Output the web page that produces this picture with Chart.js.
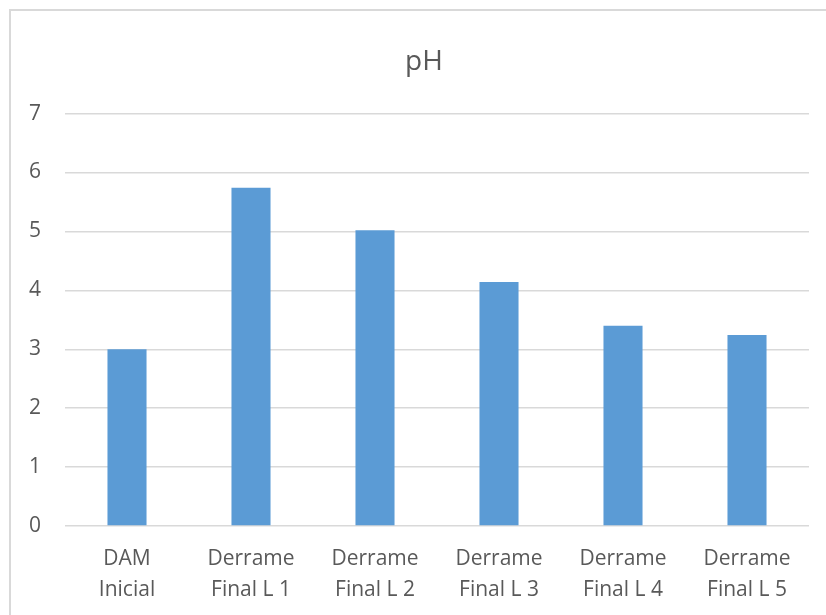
<!DOCTYPE html>
<html lang="pt-BR">
<head>
    <meta charset="UTF-8">
    <title>pH</title>
    <script src="https://cdn.jsdelivr.net/npm/chart.js"></script>
    <style>
        html, body { margin: 0; padding: 0; background: #fff; overflow: hidden; }
        .frame {
            position: absolute; left: 9px; top: 9px; width: 880px; height: 700px;
            border: 2px solid #d9d9d9; box-sizing: border-box;
        }
        .wrap { position: absolute; left: 0; top: 0; width: 850px; height: 640px; }
    </style>
</head>
<body>
    <div class="frame"></div>
    <div class="wrap"><canvas id="phChart"></canvas></div>

    <script>
        const categories = [["DAM", "Inicial"], ["Derrame", "Final L 1"], ["Derrame", "Final L 2"],
                            ["Derrame", "Final L 3"], ["Derrame", "Final L 4"], ["Derrame", "Final L 5"]];
        const phValues = [3.0, 5.74, 5.02, 4.14, 3.40, 3.24];
        const yTicks = [0, 1, 2, 3, 4, 5, 6, 7];

        const textColor = "#595959";
        const fontFamily = "'Open Sans', sans-serif";

        // nudge the title so it centres where the reference has it
        const titleShift = {
            id: "titleShift",
            afterLayout(chart) {
                if (chart.titleBlock) chart.titleBlock.left += 19;
            }
        };

        const ctx = document.getElementById("phChart").getContext("2d");
        new Chart(ctx, {
            type: "bar",
            data: {
                labels: categories,
                datasets: [{
                    label: "pH",
                    data: phValues,
                    backgroundColor: "#5b9bd5",
                    borderWidth: 0,
                    categoryPercentage: 1,
                    barPercentage: 0.315
                }]
            },
            plugins: [titleShift],
            options: {
                responsive: true,
                maintainAspectRatio: false,
                animation: false,
                layout: { padding: { left: 20, right: 41, top: 0, bottom: 0 } },
                plugins: {
                    legend: { display: false },
                    tooltip: { enabled: false },
                    title: {
                        display: true,
                        text: "pH",
                        color: textColor,
                        font: { family: fontFamily, size: 28, weight: "normal", lineHeight: 1.2 },
                        padding: { top: 45, bottom: 35 }
                    }
                },
                scales: {
                    x: {
                        grid: { display: false, drawTicks: false },
                        border: { display: false },
                        ticks: {
                            color: textColor,
                            font: { family: fontFamily, size: 21, lineHeight: 1.48 },
                            padding: 17,
                            maxRotation: 0
                        },
                        afterFit: (scale) => { scale.height = 114; }
                    },
                    y: {
                        min: 0,
                        max: 7,
                        afterBuildTicks: (scale) => { scale.ticks = yTicks.map(v => ({ value: v })); },
                        grid: { color: "#d9d9d9", lineWidth: 1.5, drawTicks: false },
                        border: { display: false },
                        ticks: {
                            color: textColor,
                            font: { family: fontFamily, size: 21 },
                            padding: 24
                        },
                        afterFit: (scale) => { scale.width = 45; }
                    }
                }
            }
        });
    </script>
</body>
</html>
